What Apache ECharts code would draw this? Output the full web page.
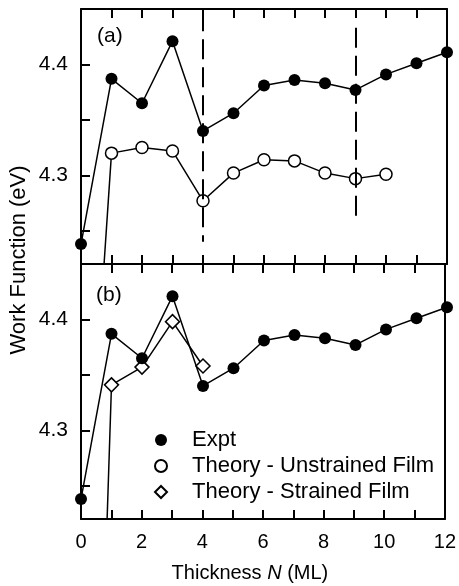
<!DOCTYPE html>
<html>
<head>
<meta charset="utf-8">
<script src="https://cdn.jsdelivr.net/npm/echarts@6/dist/echarts.min.js"></script>
<style>
  html, body { margin: 0; padding: 0; background: #fff; }
  #chart { width: 459px; height: 586px; }
</style>
</head>
<body>
<div id="chart"></div>
<script>
// thickness N (ML) and work function (eV)
var thickness = [0, 1, 2, 3, 4, 5, 6, 7, 8, 9, 10, 11, 12];
var exptWF = [4.238, 4.387, 4.365, 4.421, 4.340, 4.356, 4.381, 4.386, 4.383, 4.377, 4.391, 4.401, 4.411];

var unstrainedN = [0, 1, 2, 3, 4, 5, 6, 7, 8, 9, 10];
var unstrainedWF = [3.91, 4.320, 4.325, 4.322, 4.277, 4.302, 4.314, 4.313, 4.302, 4.297, 4.301];

var strainedN = [0, 1, 2, 3, 4];
var strainedWF = [3.5, 4.341, 4.357, 4.398, 4.358];

var yTickValues = [4.25, 4.3, 4.35, 4.4];
var yLabelValues = [4.3, 4.4];

// dashed guide lines in panel (a): N, top, bottom
var guideN = [4, 9];
var guideTop = [4.448, 4.433];
var guideBottom = [4.24, 4.261];

var FONT = '"Liberation Sans", Arial, Helvetica, sans-serif';

function pairs(xs, ys) {
    return xs.map(function (x, i) { return [x, ys[i]]; });
}

var chart = echarts.init(document.getElementById('chart'));

var panelA = { left: 81, top: 9, width: 366, height: 255 };
var panelB = { left: 81, top: 264, width: 366, height: 255 };

//数据坐标轴(隐藏)
function dataX(grid) {
    return { type: 'value', gridIndex: grid, min: 0, max: 12, show: false };
}
function dataY(grid) {
    return { type: 'value', gridIndex: grid, min: 4.22, max: 4.45, show: false };
}

//边框坐标轴(刻度、标签)
function axisLine() {
    return { show: true, onZero: false, lineStyle: { color: '#000', width: 2 } };
}
function frameX(grid, pos) {
    return {
        type: 'value', gridIndex: grid, position: pos,
        min: 0, max: 12, interval: 1,
        axisLine: axisLine(),
        axisTick: { show: true, inside: true, length: 9, lineStyle: { color: '#000', width: 2 } },
        axisLabel: { show: false },
        splitLine: { show: false }
    };
}
function frameY(grid) {
    return {
        type: 'value', gridIndex: grid, position: 'left',
        min: 4.22, max: 4.45,
        axisLine: axisLine(),
        axisTick: { show: true, inside: true, length: 9, customValues: yTickValues,
            lineStyle: { color: '#000', width: 2 } },
        axisLabel: { show: true, customValues: yLabelValues, margin: 13,
            color: '#000', fontFamily: FONT, fontSize: 21,
            formatter: function (v) { return v.toFixed(1); } },
        splitLine: { show: false }
    };
}
function frameYRight(grid) {
    return {
        type: 'value', gridIndex: grid, position: 'right',
        min: 4.22, max: 4.45,
        axisLine: axisLine(),
        axisTick: { show: false }, axisLabel: { show: false }, splitLine: { show: false }
    };
}

var xBottomB = frameX(3, 'bottom');
xBottomB.axisLabel = {
    show: true, margin: 13, color: '#000', fontFamily: FONT, fontSize: 20,
    formatter: function (v) { return v % 2 === 0 ? String(v) : ''; }
};
xBottomB.name = 'Thickness {i|N} (ML)';
xBottomB.nameLocation = 'middle';
xBottomB.nameGap = 44;
xBottomB.nameTextStyle = {
    color: '#000', fontFamily: FONT, fontSize: 20, padding: [0, 26, 0, 0],
    rich: { i: { fontStyle: 'italic', fontFamily: FONT, fontSize: 20, color: '#000' } }
};

var openStyle = { color: '#fff', borderColor: '#000', borderWidth: 1.5 };

let option = {
    animation: false,
    backgroundColor: '#fff',
    grid: [panelA, panelB, panelA, panelB],
    xAxis: [dataX(0), dataX(1), frameX(2, 'bottom'), frameX(2, 'top'), xBottomB, frameX(3, 'top')],
    yAxis: [dataY(0), dataY(1), frameY(2), frameYRight(2), frameY(3), frameYRight(3)],
    legend: {
        left: 149, top: 424, orient: 'vertical',
        itemWidth: 12, itemHeight: 12, itemGap: 4,
        selectedMode: false,
        textStyle: { color: '#000', fontFamily: FONT, fontSize: 22, lineHeight: 22, padding: [0, 0, 0, 20] },
        data: [
            { name: 'Expt', icon: 'circle' },
            { name: 'Theory - Unstrained Film', icon: 'circle', itemStyle: { borderWidth: 2 } },
            { name: 'Theory - Strained Film', icon: 'diamond', itemStyle: { borderWidth: 2 } }
        ]
    },
    graphic: [
        { type: 'text', left: 97, top: 26, style: { text: '(a)', fill: '#000', font: '21px ' + FONT } },
        { type: 'text', left: 96, top: 285, style: { text: '(b)', fill: '#000', font: '21px ' + FONT } },
        { type: 'text', x: 19, y: 260, rotation: Math.PI / 2,
          style: { text: 'Work Function (eV)', fill: '#000', font: '22px ' + FONT,
                   align: 'center', verticalAlign: 'middle' } }
    ],
    series: [
        {
            name: 'Theory - Unstrained Film', type: 'line', xAxisIndex: 0, yAxisIndex: 0,
            data: pairs(unstrainedN, unstrainedWF),
            symbol: 'circle', symbolSize: 12, itemStyle: openStyle,
            lineStyle: { color: '#000', width: 1.5 }, clip: true,
            markLine: {
                silent: true, symbol: 'none', label: { show: false },
                lineStyle: { color: '#000', width: 2, type: [20, 8] },
                data: guideN.map(function (n, i) {
                    return [{ coord: [n, guideTop[i]] }, { coord: [n, guideBottom[i]] }];
                })
            }
        },
        {
            name: 'Expt', type: 'line', xAxisIndex: 0, yAxisIndex: 0,
            data: pairs(thickness, exptWF),
            symbol: 'circle', symbolSize: 12, itemStyle: { color: '#000' },
            lineStyle: { color: '#000', width: 1.5 }
        },
        {
            name: 'Theory - Strained Film', type: 'line', xAxisIndex: 1, yAxisIndex: 1,
            data: pairs(strainedN, strainedWF),
            symbol: 'diamond', symbolSize: 14, itemStyle: openStyle,
            lineStyle: { color: '#000', width: 1.5 }, clip: true
        },
        {
            name: 'Expt', type: 'line', xAxisIndex: 1, yAxisIndex: 1,
            data: pairs(thickness, exptWF),
            symbol: 'circle', symbolSize: 12, itemStyle: { color: '#000' },
            lineStyle: { color: '#000', width: 1.5 }
        }
    ]
};

chart.setOption(option);
</script>
</body>
</html>
